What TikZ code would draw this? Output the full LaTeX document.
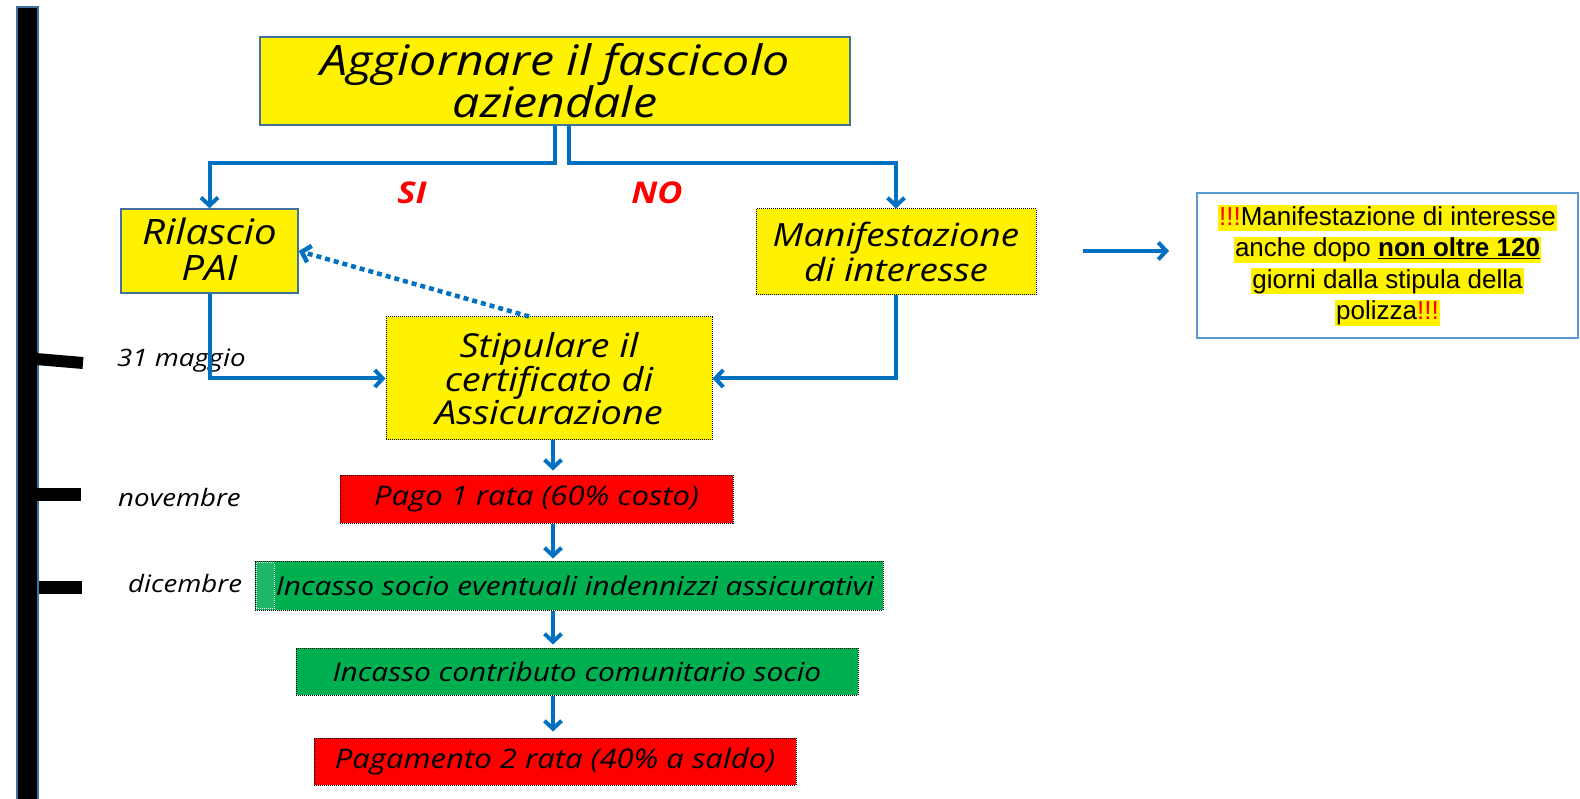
\documentclass[tikz,border=0pt]{standalone}
\usepackage{fontspec}
\usepackage{tikz}
\usetikzlibrary{arrows.meta}
\newfontfamily\handfont{Open Sans}[FakeStretch=1.15]
\newfontfamily\notefont{Liberation Sans}
\definecolor{flowblue}{HTML}{0070C0}
\definecolor{frameblue}{HTML}{41719C}
\definecolor{noteblue}{HTML}{5B9BD5}
\definecolor{boxgreen}{HTML}{00B050}
\definecolor{stripgreen}{HTML}{20B868}
\setlength{\fboxsep}{1pt}
\newcommand{\hl}[1]{\colorbox{yellow}{\rule[-5pt]{0pt}{24pt}#1}}

\begin{document}
\begin{tikzpicture}[x=1pt,y=-1pt,>={Straight Barb[length=8pt,width=17pt]},
        flow/.style={->,draw=flowblue,line width=4pt},
        dotflow/.style={->,draw=flowblue,line width=4.5pt,dash pattern=on 5pt off 4pt},
        framebox/.style={draw=frameblue,line width=1.5pt,fill=yellow,inner sep=0pt,align=center},
        dotbox/.style={draw=black,densely dotted,line width=1pt,inner sep=0pt,align=center},
        hand/.style={font=\handfont\itshape\fontsize{#1}{#1}\selectfont},
        yesno/.style={text=red,font=\handfont\bfseries\itshape\fontsize{30}{30}\selectfont},
        when/.style={anchor=west,inner sep=0pt,font=\handfont\itshape\fontsize{24}{24}\selectfont}]
            \useasboundingbox (0,0) rectangle (1580,799);

            % timeline bar with its ticks
            \filldraw[fill=black,draw=frameblue,line width=1.5pt] (17,7) rectangle (38,805);
            \draw[line width=12pt] (36,359) -- (83,363);
            \draw[line width=13pt] (36,494) -- (81,494);
            \draw[line width=13pt] (39,587.5) -- (82,587.5);

            % dates
            \node[when] (may) at (117,361) {31 maggio};
            \node[when] (nov) at (118,497) {novembre};
            \node[when] (dec) at (128,583) {dicembre};

            % top box
            \node[framebox,minimum width=590pt,minimum height=88pt,hand=42] (top) at (555,81)
                {Aggiornare il fascicolo\\[0pt]aziendale};

            % the two branches
            \node[yesno] (si) at (412,193) {SI};
            \node[yesno] (no) at (657,193) {NO};
            \node[framebox,minimum width=177pt,minimum height=84pt,hand=35] (rilascio) at (209.5,251)
                {\raisebox{4pt}{Rilascio}\\[1pt]\raisebox{4pt}{PAI}};
            \node[dotbox,fill=yellow,minimum width=280pt,minimum height=86pt,hand=32] (manif) at (896,252)
                {Manifestazione\\[3pt]di interesse};

            % note on the right
            \node[draw=noteblue,line width=1.2pt,minimum width=381pt,minimum height=145pt,
                inner sep=0pt,align=center,font=\notefont\fontsize{26}{31.5}\selectfont] (note) at (1387.5,265.5)
                {\hl{\textcolor{red}{!!!}Manifestazione di interesse}\\
                 \hl{anche dopo \underline{\textbf{non oltre 120}}}\\
                 \hl{giorni dalla stipula della}\\
                 \hl{polizza\textcolor{red}{!!!}}};
            \coordinate (noteS) at (1083,251);
            \coordinate (noteE) at (1169,251);
            \draw[flow] (noteS) -- (noteE);

            % certificate box
            \node[dotbox,fill=yellow,minimum width=326pt,minimum height=123pt,hand=33] (stip) at (549,378.5)
                {Stipulare il\\[0pt]certificato di\\[0pt]Assicurazione};

            % payment and cash boxes
            \node[dotbox,fill=red,minimum width=393pt,minimum height=48pt,hand=27] (pago) at (536.5,499)
                {Pago 1 rata (60\% costo)};
            \node[dotbox,fill=boxgreen,minimum width=628pt,minimum height=49pt,hand=26] (socio) at (569,585.5)
                {\hspace{12pt}Incasso socio eventuali indennizzi assicurativi};
            \node[draw=white,densely dotted,line width=1pt,fill=stripgreen,minimum width=18pt,
                minimum height=46pt,inner sep=0pt] (strip) at (265,585.5) {};
            \node[dotbox,fill=boxgreen,minimum width=562pt,minimum height=47pt,hand=26] (contrib) at (577,671.5)
                {Incasso contributo comunitario socio};
            \node[dotbox,fill=red,minimum width=482pt,minimum height=47pt,hand=27] (saldo) at (555,761.5)
                {Pagamento 2 rata (40\% a saldo)};

            % connectors
            \coordinate (splitL) at (555,163);
            \coordinate (splitR) at (569,163);
            \coordinate (spine) at (553,0);
            \draw[flow] (top.south -| splitL) -- (splitL) -| (rilascio.north);
            \draw[flow] (top.south -| splitR) -- (splitR) -| (manif.north);
            \draw[flow] (rilascio.south) |- (stip.west);
            \draw[flow] (manif.south) |- (stip.east);
            \draw[dotflow] ([xshift=-20pt]stip.north) -- (rilascio.east);
            \draw[flow,shorten >=4pt] (stip.south -| spine) -- (pago.north -| spine);
            \draw[flow,shorten >=2pt] (pago.south -| spine) -- (socio.north -| spine);
            \draw[flow,shorten >=3pt] (socio.south -| spine) -- (contrib.north -| spine);
            \draw[flow,shorten >=6pt] (contrib.south -| spine) -- (saldo.north -| spine);
        \end{tikzpicture}
\end{document}
